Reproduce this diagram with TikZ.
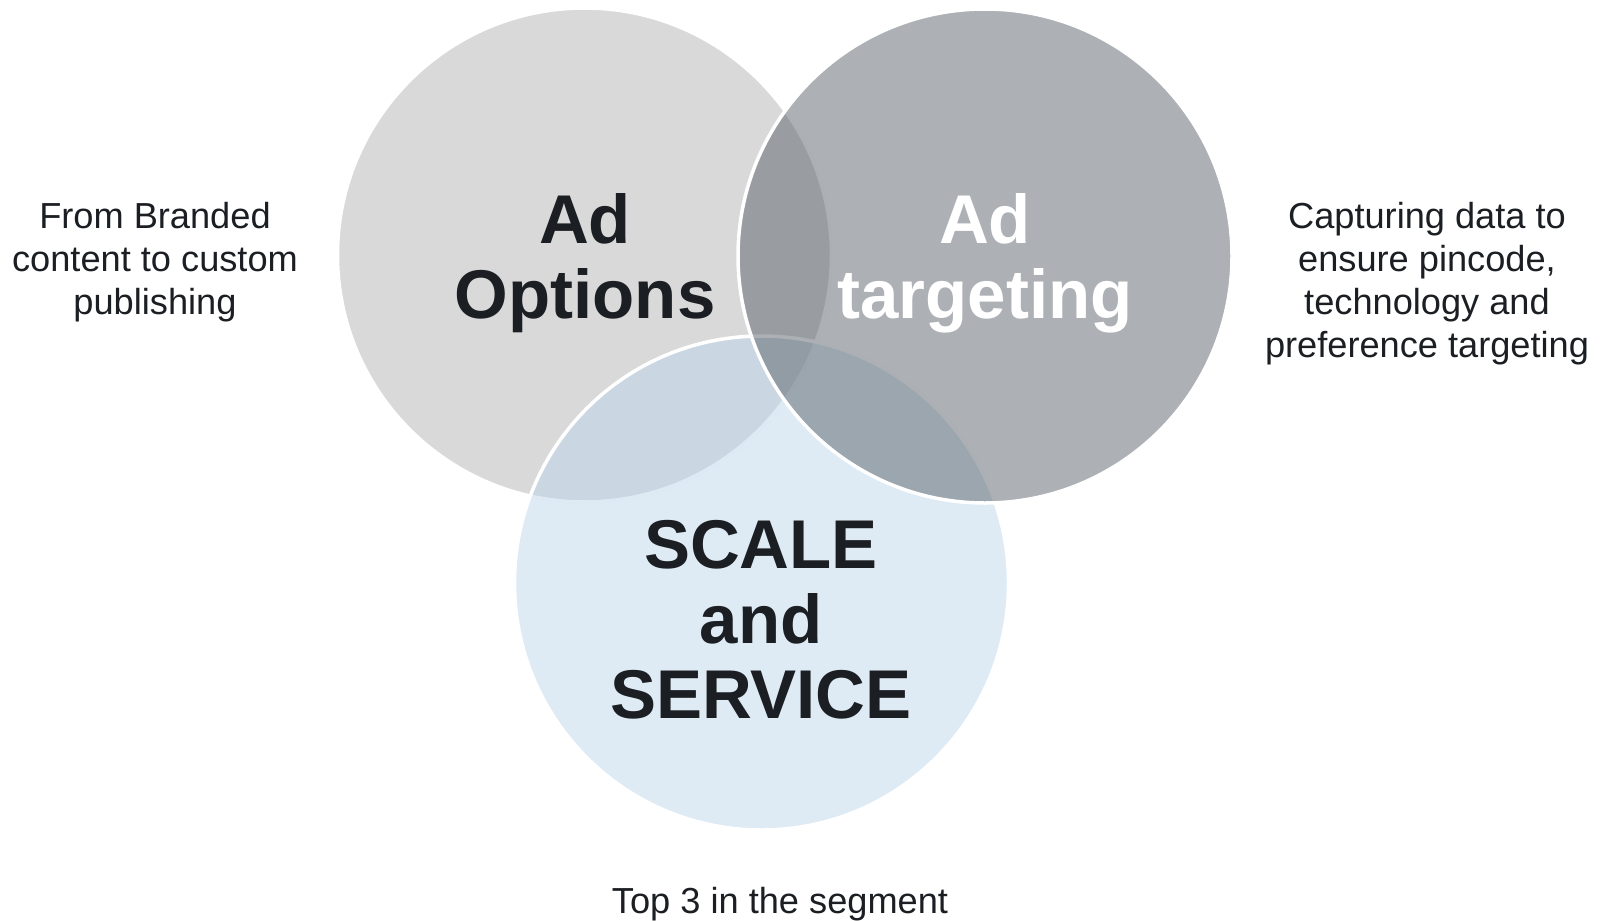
\documentclass[tikz,border=0pt]{standalone}
\usepackage{fontspec}
\setmainfont{Liberation Sans}

\definecolor{optgray}{HTML}{D9D9D9}
\definecolor{targray}{HTML}{5B636B}
\definecolor{scaleblue}{HTML}{BDD5E9}
\definecolor{inkdark}{HTML}{1B1E22}

\tikzset{
  ring/.style={draw=white, line width=1.75pt},
  bigword/.style={font=\bfseries\fontsize{34.5}{37.5}\selectfont, align=center, inner sep=0pt},
  sideword/.style={font=\fontsize{18.1}{21.6}\selectfont, align=center, inner sep=0pt, text=inkdark}
}

\begin{document}
\begin{tikzpicture}[x=0.5pt,y=-0.5pt]
    \useasboundingbox (0,0) rectangle (1602,921);

    % Rings, back to front
    \draw[ring, fill=optgray] (584.5,255) circle (123.5pt);
    \draw[ring, fill=scaleblue, fill opacity=.5] (761.5,583) circle (123.5pt);
    \draw[ring, fill=targray, fill opacity=.5] (985,256) circle (123.5pt);

    % Words inside the rings
    \node[bigword, text=inkdark] (options) at (585,263) {Ad\\Options};
    \node[bigword, text=white] (targeting) at (985,263) {Ad\\targeting};
    \node[bigword, text=inkdark] (scale) at (761,620) {SCALE\\and\\SERVICE};

    % Notes round the rings
    \node[sideword] (branded) at (155,262.4) {From Branded\\content to custom\\publishing};
    \node[sideword] (capturing) at (1427,283.5) {Capturing data to\\ensure pincode,\\technology and\\preference targeting};
    \node[sideword] (top) at (780,904) {Top 3 in the segment};

\end{tikzpicture}
\end{document}
